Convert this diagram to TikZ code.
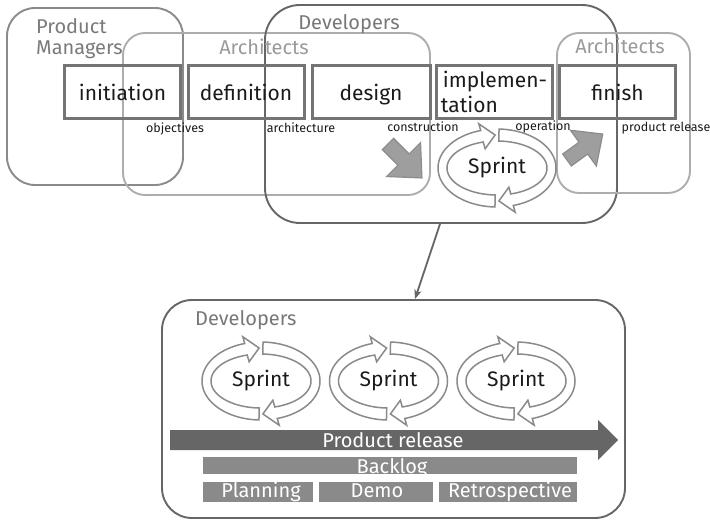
\documentclass[tikz,border=0pt]{standalone}
\usepackage{fontspec}
\setmainfont{Fira Sans}
\usetikzlibrary{arrows.meta}

\definecolor{devgray}{HTML}{666666}
\definecolor{pmgray}{HTML}{8A8A8A}
\definecolor{archgray}{HTML}{ADADAD}
\definecolor{boxgray}{HTML}{747474}
\definecolor{pmlabel}{HTML}{7A7A7A}
\definecolor{archlabel}{HTML}{9A9A9A}
\definecolor{devlabel}{HTML}{777777}
\definecolor{cyclegray}{HTML}{8A8A8A}
\definecolor{arrgray}{HTML}{8C8C8C}
\definecolor{arrfill}{HTML}{9E9E9E}
\definecolor{barfill}{HTML}{8A8A8A}
\definecolor{relfill}{HTML}{666666}
\definecolor{inktext}{HTML}{1A1A1A}

\tikzset{
  % one turn of the sprint cycle: two outlined half-rings with arrow heads
  sprintcycle/.pic={
    \begin{scope}[yscale=-1]
      \draw[cyclepart] plot[domain=268:106,samples=60] ({59*cos(\x)},{39*sin(\x)})
        -- ({66*cos(106)},{46*sin(106)}) -- ({54.5*cos(92)},{33*sin(92)})
        -- ({43*cos(106)},{20*sin(106)})
        -- plot[domain=106:268,samples=60] ({50*cos(\x)},{27*sin(\x)}) -- cycle;
      \draw[cyclepart] plot[domain=88:-74,samples=60] ({59*cos(\x)},{39*sin(\x)})
        -- ({66*cos(-74)},{46*sin(-74)}) -- ({54.5*cos(-88)},{33*sin(-88)})
        -- ({43*cos(-74)},{20*sin(-74)})
        -- plot[domain=-74:88,samples=60] ({50*cos(\x)},{27*sin(\x)}) -- cycle;
    \end{scope}
    \node[sprinttext] (-label) at (0,0) {Sprint};
  },
  % short fat hand-over arrow
  blockarrow/.pic={
    \draw[blockarr] (0,-8) -- (22,-8) -- (22,-24) -- (48,0) -- (22,24) -- (22,8) -- (0,8) -- cycle;
  }
}

\begin{document}
\begin{tikzpicture}[x=1pt,y=-1pt,
  grp/.style={draw=#1, line width=1.9pt, inner sep=0pt},
  grplabel/.style={text=#1, font=\fontsize{20pt}{24pt}\selectfont, inner sep=0pt},
  phase/.style={draw=boxgray, line width=3pt, minimum width=116pt, minimum height=53pt,
    inner sep=0pt, text=inktext, font=\fontsize{21pt}{25pt}\selectfont},
  handover/.style={font=\fontsize{12.5pt}{14pt}\selectfont, inner sep=0pt, anchor=base, text=inktext},
  cyclepart/.style={draw=cyclegray, line width=1.5pt, fill=white, line join=miter},
  sprinttext/.style={font=\fontsize{21pt}{25pt}\selectfont, inner sep=0pt, text=inktext},
  blockarr/.style={draw=arrgray, fill=arrfill, line width=1.2pt, line join=miter},
  bar/.style={fill=barfill, inner sep=0pt},
  bartext/.style={text=white, font=\fontsize{20pt}{24pt}\selectfont, inner sep=0pt, anchor=base},
  conn/.style={draw=devgray, line width=1.8pt, -{Stealth[length=9pt,width=7pt,inset=2pt]}}
]
\useasboundingbox (0,0) rectangle (710,522);

% ---------- role areas of the phase model ----------
\node[grp=pmgray, rounded corners=28pt, minimum width=176pt, minimum height=177pt] (pm) at (95,96.5) {};
\node[grp=archgray, rounded corners=22pt, minimum width=307pt, minimum height=162pt] (archA) at (276.5,114) {};
\node[grp=devgray, rounded corners=35pt, minimum width=352pt, minimum height=218pt] (devtop) at (441,114) {};
\node[grp=archgray, rounded corners=22pt, minimum width=133pt, minimum height=160pt] (archB) at (623.5,113) {};

\node[grplabel=pmlabel, anchor=base west] (pmtxtA) at (36,33) {Product};
\node[grplabel=pmlabel, anchor=base west] (pmtxtB) at (36,54) {Managers};
\node[grplabel=archlabel, anchor=base] (archtxtA) at (264,54) {Architects};
\node[grplabel=devlabel, anchor=base] (devtxt) at (349,29) {Developers};
\node[grplabel=archlabel, anchor=base] (archtxtB) at (620,53) {Architects};

% ---------- phases ----------
\node[phase, text height=20pt, text depth=3pt] (init) at (122.5,91.5) {initiation};
\node[phase, text height=20pt, text depth=3pt] (defn) at (246,91.5) {definition};
\node[phase, text height=20pt, text depth=3pt, minimum width=118pt] (dsgn) at (371,91.5) {design};
\node[phase, align=left] (impl) at (494,91.5) {\hspace*{2pt}implemen-\\tation};
\node[phase, text height=20pt, text depth=3pt] (fin) at (617.5,91.5) {finish};

% ---------- hand-over results ----------
\node[handover] (objv) at (175,132) {objectives};
\node[handover] (arch) at (301,132) {architecture};
\node[handover] (cons) at (423,131) {construction};
\node[handover] (oper) at (543,130) {operation};
\node[handover] (prel) at (666,131) {product release};

\pic[rotate=-45] at (388,144) {blockarrow};
\pic[rotate=36, scale=0.92] at (567,160) {blockarrow};

\pic (cyc) at (497,168) {sprintcycle};

% ---------- detail of the development phase ----------
\node[grp=devgray, rounded corners=30pt, minimum width=463pt, minimum height=218pt] (devbot) at (393.5,409) {};
\node[grplabel=devlabel, anchor=base west] (devbottxt) at (195,325) {Developers};

\draw[conn] ([xshift=-1pt]devtop.south) -- ([xshift=21.5pt]devbot.north);

\pic (cycA) at (261,381) {sprintcycle};
\pic (cycB) at (388.5,381) {sprintcycle};
\pic (cycC) at (516,381) {sprintcycle};

\fill[relfill] (170,430) -- (598,430) -- (598,420) -- (618,440) -- (598,460) -- (598,450) -- (170,450) -- cycle;
\node[bartext] (reltxt) at (393,447) {Product release};

\node[bar, minimum width=374pt, minimum height=17pt] (backlog) at (390,465.5) {};
\node[bartext] (backlogtxt) at (392,473) {Backlog};

\node[bar, minimum width=110pt, minimum height=20pt] (plan) at (258,492) {};
\node[bar, minimum width=114pt, minimum height=20pt] (demo) at (376,492) {};
\node[bar, minimum width=138pt, minimum height=20pt] (retro) at (508,492) {};
\node[bartext] (plantxt) at (261,497) {Planning};
\node[bartext] (demotxt) at (377,497) {Demo};
\node[bartext] (retrotxt) at (510,497) {Retrospective};
\end{tikzpicture}
\end{document}
